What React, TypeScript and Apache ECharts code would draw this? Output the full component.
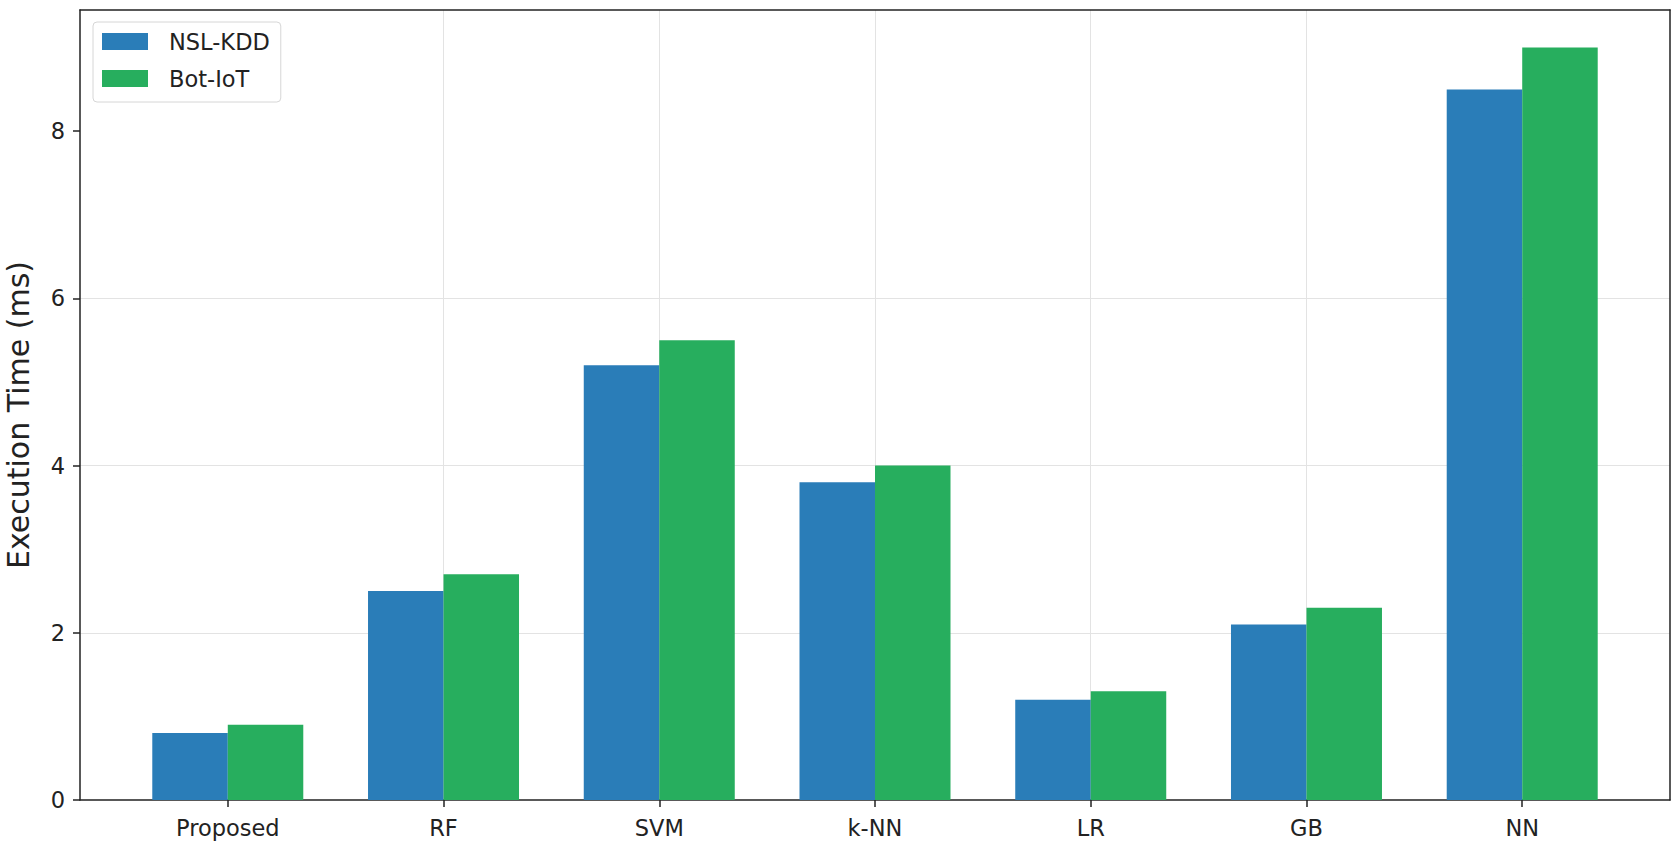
import React, { useEffect, useRef } from "react";
import * as echarts from "echarts";

const categories = ["Proposed", "RF", "SVM", "k-NN", "LR", "GB", "NN"];
const nslKdd = [0.8, 2.5, 5.2, 3.8, 1.2, 2.1, 8.5];
const botIot = [0.9, 2.7, 5.5, 4.0, 1.3, 2.3, 9.0];
const yTicks = [0, 2, 4, 6, 8];
const seriesNames = ["NSL-KDD", "Bot-IoT"];

const X_MIN = -0.685;
const X_MAX = 6.685;
const Y_MAX = 9.45;

export default function App() {
  const ref = useRef<HTMLDivElement>(null);
  useEffect(() => {
    document.body.style.margin = "0";
    const chart = echarts.init(ref.current!, null, { renderer: "svg" });
    const font = "DejaVu Sans";
    const catIdx = categories.map((_, i) => i);
    chart.setOption({
      animation: false,
      backgroundColor: "#fff",
      textStyle: { fontFamily: font },
      grid: { left: 80, right: 6, top: 10, bottom: 56, containLabel: false, outerBoundsMode: "none" },
      legend: {
        data: seriesNames,
        orient: "vertical",
        left: 93,
        top: 22,
        padding: [8, 11, 12, 9],
        itemWidth: 46,
        itemHeight: 17,
        itemGap: 14,
        icon: "rect",
        backgroundColor: "#fff",
        borderColor: "#d6d6d6",
        borderWidth: 1,
        borderRadius: 4,
        textStyle: { fontSize: 22.5, color: "#222", fontFamily: font, padding: [0, 0, 0, 16] },
      },
      xAxis: [
        {
          type: "value",
          min: X_MIN,
          max: X_MAX,
          minInterval: 1,
          maxInterval: 1,
          axisLine: { show: true, onZero: false, lineStyle: { color: "#222", width: 1.5 } },
          axisTick: { show: true, length: 7, customValues: catIdx, lineStyle: { color: "#222", width: 1.5 } },
          axisLabel: {
            customValues: catIdx,
            margin: 16,
            fontSize: 22.5,
            color: "#222",
            fontFamily: font,
            formatter: (v: number) => {
              const r = Math.round(v);
              return Math.abs(v - r) < 1e-6 && categories[r] !== undefined ? categories[r] : "";
            },
          },
          splitLine: { show: true, showMinLine: false, showMaxLine: false, lineStyle: { color: "#e3e3e3", width: 1 } },
        },
        {
          type: "value",
          position: "top",
          min: X_MIN,
          max: X_MAX,
          axisLine: { show: true, onZero: false, lineStyle: { color: "#222", width: 1.5 } },
          axisTick: { show: false },
          axisLabel: { show: false },
          splitLine: { show: false },
        },
      ],
      yAxis: [
        {
          type: "value",
          min: 0,
          max: Y_MAX,
          interval: 2,
          name: "Execution Time (ms)",
          nameLocation: "middle",
          nameGap: 47,
          nameTextStyle: { fontSize: 30, color: "#222", fontFamily: font, padding: [0, 20, 0, 0] },
          axisLine: { show: true, onZero: false, lineStyle: { color: "#222", width: 1.5 } },
          axisTick: { show: true, length: 7, customValues: yTicks, lineStyle: { color: "#222", width: 1.5 } },
          axisLabel: {
            customValues: yTicks,
            margin: 15,
            fontSize: 22.5,
            color: "#222",
            fontFamily: font,
          },
          splitLine: { show: true, showMinLine: false, showMaxLine: false, lineStyle: { color: "#e3e3e3", width: 1 } },
        },
        {
          type: "value",
          position: "right",
          min: 0,
          max: Y_MAX,
          axisLine: { show: true, onZero: false, lineStyle: { color: "#222", width: 1.5 } },
          axisTick: { show: false },
          axisLabel: { show: false },
          splitLine: { show: false },
        },
      ],
      series: [
        {
          name: seriesNames[0],
          type: "bar",
          xAxisIndex: 0,
          yAxisIndex: 0,
          barWidth: 75.5,
          barGap: "0%",
          itemStyle: { color: "#2a7db8" },
          data: nslKdd.map((v, i) => [i, v]),
        },
        {
          name: seriesNames[1],
          type: "bar",
          xAxisIndex: 0,
          yAxisIndex: 0,
          barWidth: 75.5,
          barGap: "0%",
          itemStyle: { color: "#27ae5e" },
          data: botIot.map((v, i) => [i, v]),
        },
      ],
    });
    return () => chart.dispose();
  }, []);
  return <div ref={ref} style={{ width: 1676, height: 856 }} />;
}
